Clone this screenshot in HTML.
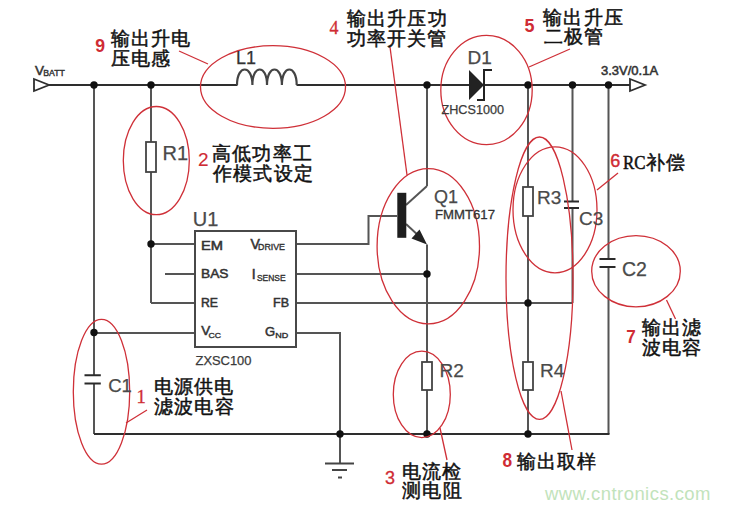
<!DOCTYPE html>
<html><head><meta charset="utf-8">
<style>
html,body{margin:0;padding:0;background:#fff;width:729px;height:508px;overflow:hidden}
svg{position:absolute;left:0;top:0}
text{font-family:"Liberation Sans",sans-serif}
.cj{font-size:19px;letter-spacing:1.2px;fill:#111;font-weight:500;stroke:#111;stroke-width:0.5}
.lb{font-size:19px;fill:#4a4a4a;stroke:#4a4a4a;stroke-width:0.25}
.bd{font-size:12.5px;font-weight:normal;fill:#333;stroke:#333;stroke-width:0.55}
.rd{fill:#cf2c34;stroke:#cf2c34;stroke-width:0.3}
.sf{font-family:"Liberation Serif",serif}
</style></head><body>
<svg width="729" height="508" viewBox="0 0 729 508">
<g stroke="#555" stroke-width="2" fill="none">
<path d="M94 85V375.2M94 383.4V434"/>
<path d="M151 85V142M151 172V303"/>
<path d="M427 85V186"/>
<path d="M427 244.5V362M427 390V434"/>
<path d="M528 85V187M528 216V362M528 390V434"/>
<path d="M572.5 85V201.5M572.5 208V303"/>
<path d="M608.5 85V259M608.5 267V434"/>
<path d="M340 333V463.5"/>
<path d="M151 244H195M165 274H195M151 303H195M94 333H195"/>
<path d="M296 244H368.5V216H397M296 274H427M296 303H572.5M296 333H341"/>
<path d="M427 186L406 205"/>
<path d="M406 224L420 237"/>
</g>
<g stroke="#2e2e2e" stroke-width="2" fill="none">
<path d="M49 85H237.5M296.5 85H630"/>
<path d="M34 79L49 85L34 91Z" stroke-width="1.8"/>
<path d="M630 79L645 85L630 91Z" stroke-width="1.8"/>
<path d="M94 434H609.5"/>
<rect x="195" y="231" width="101" height="116" stroke="#484848"/>
<path d="M325 463.5H354M332 470H347M338 477.5H342" stroke="#444"/>
</g>
<g stroke="#444" stroke-width="1.8" fill="none">
<rect x="146" y="142" width="10" height="30"/>
<rect x="523" y="187" width="10" height="29"/>
<rect x="523" y="362" width="10" height="28"/>
<rect x="422" y="362" width="10" height="28"/>
</g>
<path d="M84.5 375.2H100.8M84.5 383.4H100.8M564 201.5H579M564 208H579M599.5 259H615.5M599.5 267H615.5" stroke="#2a2a2a" stroke-width="2" fill="none"/>
<path d="M237 85 C237 64.3 252.4 64.3 252.4 85 C252.4 64.3 267 64.3 267 85 C267 64.3 281.9 64.3 281.9 85 C281.9 64.3 296.7 64.3 296.7 85" stroke="#444" stroke-width="2.2" fill="none"/>
<rect x="397.3" y="192.8" width="9" height="45" fill="#1e1e1e"/>
<path d="M427 244.5L411.5 238.5L419.5 229.5Z" fill="#222"/>
<path d="M469 70L484 85L469 100Z" fill="#222"/>
<path d="M492 70H484V100H477" stroke="#222" stroke-width="2" fill="none"/>
<g fill="#111">
<circle cx="94" cy="85" r="3.7"/><circle cx="151" cy="85" r="3.7"/>
<circle cx="427" cy="85" r="3.7"/><circle cx="528" cy="85" r="3.7"/>
<circle cx="572.5" cy="85" r="3.7"/><circle cx="608.5" cy="85" r="3.7"/>
<circle cx="151" cy="244" r="3.7"/><circle cx="94" cy="332.5" r="3.7"/>
<circle cx="427" cy="274" r="3.7"/><circle cx="528" cy="303" r="3.7"/>
<circle cx="340" cy="434" r="3.7"/><circle cx="427" cy="434" r="3.7"/>
<circle cx="528" cy="434" r="3.7"/>
</g>
<g stroke="#cf3038" stroke-width="1.3" fill="none">
<ellipse cx="273" cy="87" rx="72.5" ry="41.3"/>
<ellipse cx="486.5" cy="90" rx="45.7" ry="54.6"/>
<ellipse cx="156.3" cy="160.6" rx="33" ry="54.1"/>
<ellipse cx="428.3" cy="246.2" rx="51.2" ry="77.6"/>
<ellipse cx="555" cy="209.8" rx="42" ry="63"/>
<ellipse cx="539.5" cy="278.2" rx="33.5" ry="141.2"/>
<ellipse cx="636" cy="271.2" rx="44.3" ry="35.6"/>
<ellipse cx="101.5" cy="391.8" rx="28.2" ry="72.4"/>
<ellipse cx="421.8" cy="394.4" rx="28.5" ry="43.2"/>
<path d="M179 51L208 64"/>
<path d="M390 47L407 175"/>
<path d="M570 49L529 67"/>
<path d="M618 173L597 190"/>
<path d="M666.5 300L675.5 319"/>
<path d="M126 423L147 410"/>
<path d="M440 428L447 460"/>
<path d="M561 391L572 450"/>
</g>
<!-- text -->
<text class="bd" x="35" y="74.5" style="font-size:13.5px">V</text><text class="bd" x="43.3" y="75.9" style="font-size:8.5px;stroke-width:0.4" textLength="21.5" lengthAdjust="spacingAndGlyphs">BATT</text>
<text class="bd" x="601" y="74.8" style="font-size:13px">3.3V/0.1A</text>
<text class="lb" x="236" y="64.2" style="font-size:18px;fill:#333;stroke:#333">L1</text>
<text class="lb" x="467.5" y="63.8" style="font-size:19px">D1</text>
<text class="bd" x="441.5" y="113.6" style="stroke-width:0.25;fill:#3a3a3a;stroke:#3a3a3a" textLength="62.5" lengthAdjust="spacingAndGlyphs">ZHCS1000</text>
<text class="lb" x="162.5" y="159.8" style="font-size:20px">R1</text>
<text class="lb" x="192.8" y="225.5" style="font-size:20px">U1</text>
<text class="lb" x="434" y="202.9" style="font-size:18px">Q1</text>
<text class="bd" x="435" y="218.8" style="stroke-width:0.3" textLength="60" lengthAdjust="spacingAndGlyphs">FMMT617</text>
<text class="lb" x="537" y="203.7">R3</text>
<text class="lb" x="579" y="224.8">C3</text>
<text class="lb" x="622" y="276" style="font-size:19.5px">C2</text>
<text class="lb" x="439.5" y="377.2">R2</text>
<text class="lb" x="540" y="377.2">R4</text>
<text class="lb" x="108.2" y="392.2" style="font-size:18.5px">C1</text>
<text class="bd" x="201" y="250" style="font-size:13.5px" textLength="22" lengthAdjust="spacingAndGlyphs">EM</text>
<text class="bd" x="201" y="278" style="font-size:13.5px" textLength="27.5" lengthAdjust="spacingAndGlyphs">BAS</text>
<text class="bd" x="201" y="307" style="font-size:13px" textLength="17" lengthAdjust="spacingAndGlyphs">RE</text>
<text class="bd" x="201.3" y="335.2" style="font-size:13.5px">V</text><text class="bd" x="208.5" y="337.8" style="font-size:8px;stroke-width:0.4" textLength="12.5" lengthAdjust="spacingAndGlyphs">CC</text>
<text class="bd" x="250.5" y="249.2" style="font-size:14px">V</text><text class="bd" x="258" y="250.2" style="font-size:9.5px;stroke-width:0.4" textLength="27" lengthAdjust="spacingAndGlyphs">DRIVE</text>
<text class="bd" x="251.8" y="278.6" style="font-size:14px">I</text><text class="bd" x="257" y="281.4" style="font-size:9.5px;stroke-width:0.4" textLength="28.5" lengthAdjust="spacingAndGlyphs">SENSE</text>
<text class="bd" x="273" y="307" style="font-size:13px" textLength="16" lengthAdjust="spacingAndGlyphs">FB</text>
<text class="bd" x="265" y="336" style="font-size:13px">G</text><text class="bd" x="275.3" y="337.6" style="font-size:8px;stroke-width:0.4" textLength="13" lengthAdjust="spacingAndGlyphs">ND</text>
<text class="bd" x="195.5" y="364.5" style="stroke-width:0.25;fill:#3a3a3a;stroke:#3a3a3a" textLength="56" lengthAdjust="spacingAndGlyphs">ZXSC100</text>
<!-- red numbers -->
<text class="rd" x="95.3" y="51.5" style="font-size:18.5px;font-weight:bold;stroke-width:0" textLength="9.8" lengthAdjust="spacingAndGlyphs">9</text>
<text class="rd sf" x="329.5" y="33.6" style="font-size:18px">4</text>
<text class="rd" x="524.5" y="31.5" style="font-size:18.5px;font-weight:bold;stroke-width:0" textLength="10" lengthAdjust="spacingAndGlyphs">5</text>
<text class="rd" x="198" y="165.8" style="font-size:19px;stroke-width:0.1">2</text>
<text class="rd" x="610.2" y="167.4" style="font-size:19px;stroke-width:0.45" textLength="10" lengthAdjust="spacingAndGlyphs">6</text>
<text class="rd" x="626.2" y="342.7" style="font-size:19px;font-weight:bold;stroke-width:0" textLength="9.5" lengthAdjust="spacingAndGlyphs">7</text>
<text class="rd sf" x="136.5" y="402.5" style="font-size:18.5px;stroke-width:0.3">1</text>
<text class="rd" x="385" y="484.2" style="font-size:18px">3</text>
<text class="rd" x="502.6" y="467.3" style="font-size:19.5px;font-weight:bold;stroke-width:0" textLength="9.6" lengthAdjust="spacingAndGlyphs">8</text>
<!-- chinese -->
<text class="cj" x="110.5" y="45">输出升电</text>
<text class="cj" x="110.5" y="64.6">压电感</text>
<text class="cj" x="346.8" y="24.8">输出升压功</text>
<text class="cj" x="346.5" y="45">功率开关管</text>
<text class="cj" x="543.3" y="23.8">输出升压</text>
<text class="cj" x="543.8" y="43.2">二极管</text>
<text class="cj" x="212" y="160.3">高低功率工</text>
<text class="cj" x="213" y="179.5">作模式设定</text>
<text class="cj sf" x="623" y="168.8" style="font-size:18px;letter-spacing:0" textLength="22.5" lengthAdjust="spacingAndGlyphs">RC</text><text class="cj" x="646" y="168.5">补偿</text>
<text class="cj" x="641.8" y="334.2">输出滤</text>
<text class="cj" x="641.8" y="353.6">波电容</text>
<text class="cj" x="153.5" y="392.5">电源供电</text>
<text class="cj" x="154" y="413">滤波电容</text>
<text class="cj" x="402" y="477.5">电流检</text>
<text class="cj" x="402.2" y="497">测电阻</text>
<text class="cj" x="516.5" y="467.6">输出取样</text>
<text x="545" y="499.5" style="font-size:18.5px;letter-spacing:0.45px;fill:#c2e3bb">www.cntronics.com</text>
</svg>
</body></html>
